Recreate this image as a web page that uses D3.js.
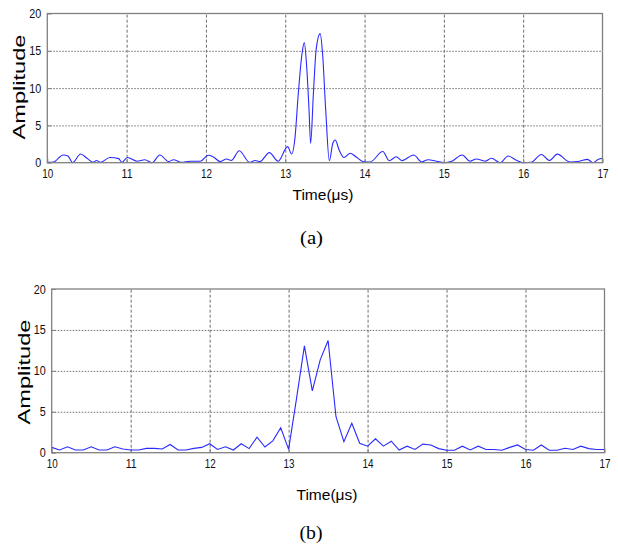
<!DOCTYPE html>
<html>
<head>
<meta charset="utf-8">
<script src="https://cdn.jsdelivr.net/npm/d3@7/dist/d3.min.js"></script>
<style>
  body { margin: 0; background: #fff; }
  svg { display: block; }
  .frame { fill: none; stroke: #808080; stroke-width: 1.3; }
  .grid line { stroke: #6e6e6e; stroke-width: 1; }
  .grid .domain { display: none; }
  .axis .domain { display: none; }
  .axis line { stroke: #808080; }
  .axis text { font-family: "Liberation Sans", Arial, sans-serif; font-size: 12.5px; fill: #111; }
  .signal { fill: none; stroke: #2a2aff; stroke-width: 1.1; }
  .label { font-family: "Liberation Sans", Arial, sans-serif; fill: #000; }
  .caption { font-family: "Liberation Serif", "Times New Roman", serif; fill: #000; }
</style>
</head>
<body>
<div id="chart"></div>
<script>
// Tick labels
var X_TICKS = [10, 11, 12, 13, 14, 15, 16, 17];
var Y_TICKS = [0, 5, 10, 15, 20];

// (a) time (us) and amplitude
var TIME_A = [10.00, 10.08, 10.20, 10.26, 10.32, 10.42, 10.50, 10.58, 10.62, 10.67,
  10.79, 10.90, 10.94, 11.01, 11.13, 11.23, 11.32, 11.42, 11.53, 11.59,
  11.69, 11.80, 11.93, 12.03, 12.09, 12.18, 12.26, 12.32, 12.42, 12.55,
  12.62, 12.68, 12.80, 12.91, 13.03, 13.08, 13.12, 13.165, 13.21, 13.24,
  13.27, 13.30, 13.32, 13.355, 13.39, 13.44, 13.47, 13.51, 13.556, 13.60,
  13.63, 13.68, 13.74, 13.82, 13.89, 14.00, 14.07, 14.23, 14.31, 14.40,
  14.47, 14.62, 14.72, 14.80, 14.91, 15.00, 15.10, 15.23, 15.33, 15.41,
  15.52, 15.60, 15.71, 15.81, 15.92, 16.00, 16.10, 16.23, 16.33, 16.43,
  16.59, 16.71, 16.81, 16.88, 16.95, 17.00];
var AMP_A = [0.05, 0.1, 1.04, 0.9, 0.0, 1.17, 0.6, 0.05, 0.3, 0.05,
  0.7, 0.55, 0.05, 0.7, 0.2, 0.4, 0.0, 1.04, 0.15, 0.4,
  0.05, 0.2, 0.2, 1.0, 0.8, 0.15, 0.5, 0.3, 1.6, 0.05,
  0.3, 0.15, 1.35, 0.2, 2.15, 1.17, 3.05, 9.3, 14.5, 16.1,
  12.9, 7.1, 2.6, 9.3, 15.2, 17.3, 14.7, 7.1, 0.27, 2.6,
  3.05, 1.7, 0.7, 1.27, 0.8, 0.1, 0.1, 1.5, 0.27, 0.8,
  0.27, 1.04, 0.1, 0.4, 0.2, 0.0, 0.2, 1.04, 0.2, 0.5,
  0.2, 0.6, 0.0, 0.9, 0.3, 0.0, 0.05, 1.1, 0.3, 1.15,
  0.1, 0.2, 0.45, 0.0, 0.45, 0.6];

// (b) sampled every 0.1 us from 10 to 17
var TIME_B = [10.0, 10.1, 10.2, 10.3, 10.4, 10.5, 10.6, 10.7, 10.8, 10.9,
  11.0, 11.1, 11.2, 11.3, 11.4, 11.5, 11.6, 11.7, 11.8, 11.9,
  12.0, 12.1, 12.2, 12.3, 12.4, 12.5, 12.6, 12.7, 12.8, 12.9,
  13.0, 13.1, 13.2, 13.3, 13.4, 13.5, 13.6, 13.7, 13.8, 13.9,
  14.0, 14.1, 14.2, 14.3, 14.4, 14.5, 14.6, 14.7, 14.8, 14.9,
  15.0, 15.1, 15.2, 15.3, 15.4, 15.5, 15.6, 15.7, 15.8, 15.9,
  16.0, 16.1, 16.2, 16.3, 16.4, 16.5, 16.6, 16.7, 16.8, 16.9, 17.0];
var AMP_B = [0.65, 0.33, 0.73, 0.33, 0.33, 0.73, 0.33, 0.33, 0.73, 0.45,
  0.33, 0.33, 0.53, 0.53, 0.45, 1.0, 0.33, 0.33, 0.53, 0.65,
  1.1, 0.4, 0.73, 0.33, 1.1, 0.5, 1.9, 0.7, 1.45, 3.05,
  0.4, 6.6, 13.05, 7.55, 11.35, 13.7, 4.4, 1.35, 3.6, 1.15,
  0.8, 1.7, 0.8, 1.4, 0.33, 0.8, 0.4, 1.05, 0.95, 0.5,
  0.3, 0.3, 0.8, 0.33, 0.8, 0.4, 0.4, 0.3, 0.65, 0.95,
  0.4, 0.3, 0.95, 0.3, 0.3, 0.55, 0.4, 0.8, 0.5, 0.4, 0.4];

var fmtInt = d3.format("d");

var svg = d3.select("#chart")
  .append("svg")
  .attr("width", 618)
  .attr("height", 546);

// Render one panel.
var renderPanel = function(config) {
  var chartWidth = config.right - config.left;
  var chartHeight = config.bottom - config.top;

  var chartElement = svg.append("g")
    .attr("transform", `translate(${config.left},${config.top})`);

  var xScale = d3.scaleLinear().domain([10, 17]).range([0, chartWidth]);
  var yScale = d3.scaleLinear().domain([0, 20]).range([chartHeight, 0]);

  // grid
  chartElement.append("g")
    .attr("class", "grid")
    .attr("transform", `translate(0,${chartHeight})`)
    .call(d3.axisBottom(xScale).tickValues(X_TICKS.slice(1, -1)).tickSize(-chartHeight).tickFormat(""))
    .selectAll("line")
    .attr("stroke-dasharray", "3,2");

  chartElement.append("g")
    .attr("class", "grid")
    .call(d3.axisLeft(yScale).tickValues(Y_TICKS.slice(1, -1)).tickSize(-chartWidth).tickFormat(""))
    .selectAll("line")
    .attr("stroke-dasharray", "1.5,1.5");

  // axes
  var xAxis = chartElement.append("g")
    .attr("class", "x axis")
    .attr("transform", `translate(0,${chartHeight})`)
    .call(d3.axisBottom(xScale).tickValues(X_TICKS).tickFormat(fmtInt).tickSize(-4).tickPadding(6));
  xAxis.selectAll("text")
    .attr("dy", "0.71em")
    .attr("textLength", 11)
    .attr("lengthAdjust", "spacingAndGlyphs");

  var yAxis = chartElement.append("g")
    .attr("class", "y axis")
    .call(d3.axisLeft(yScale).tickValues(Y_TICKS).tickFormat(fmtInt).tickSize(-4).tickPadding(config.yPad));
  yAxis.selectAll("text")
    .attr("textLength", d => d >= 10 ? 12 : 6)
    .attr("lengthAdjust", "spacingAndGlyphs");

  // signal
  var line = d3.line()
    .x(d => xScale(d[0]))
    .y(d => yScale(d[1]))
    .curve(config.curve);

  chartElement.append("path")
    .datum(d3.zip(config.time, config.amp))
    .attr("class", "signal")
    .attr("d", line);

  chartElement.append("rect")
    .attr("class", "frame")
    .attr("width", chartWidth)
    .attr("height", chartHeight);

  // labels
  svg.append("text")
    .attr("class", "label")
    .attr("transform", `translate(${config.yLabelX},${config.yLabelY}) rotate(-90)`)
    .attr("text-anchor", "middle")
    .attr("font-size", 16.5)
    .attr("textLength", 105)
    .attr("lengthAdjust", "spacingAndGlyphs")
    .text("Amplitude");

  svg.append("text")
    .attr("class", "label")
    .attr("x", config.xLabelX)
    .attr("y", config.xLabelY)
    .attr("text-anchor", "middle")
    .attr("font-size", 15)
    .attr("textLength", 61)
    .attr("lengthAdjust", "spacingAndGlyphs")
    .text("Time(\u03bcs)");

  svg.append("text")
    .attr("class", "caption")
    .attr("x", config.capX)
    .attr("y", config.capY)
    .attr("text-anchor", "middle")
    .attr("font-size", 18)
    .attr("textLength", 23)
    .attr("lengthAdjust", "spacingAndGlyphs")
    .text(config.caption);
};

renderPanel({
  left: 47.3, right: 602.5, top: 13.5, bottom: 162.7,
  time: TIME_A, amp: AMP_A, curve: d3.curveMonotoneX,
  yPad: 6, yLabelX: 25, yLabelY: 87,
  xLabelX: 323, xLabelY: 200,
  capX: 311.5, capY: 244, caption: "(a)"
});

renderPanel({
  left: 51.7, right: 604.5, top: 289, bottom: 452.7,
  time: TIME_B, amp: AMP_B, curve: d3.curveLinear,
  yPad: 6, yLabelX: 30, yLabelY: 372,
  xLabelX: 327, xLabelY: 500,
  capX: 311, capY: 539, caption: "(b)"
});
</script>
</body>
</html>
